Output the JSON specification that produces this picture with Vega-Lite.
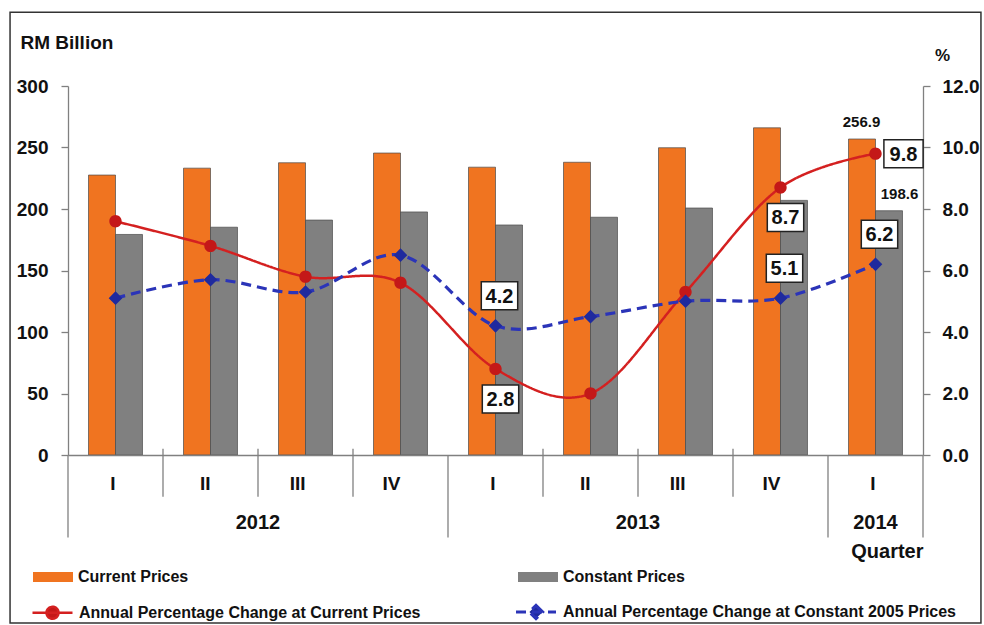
{
  "$schema": "https://vega.github.io/schema/vega-lite/v6.json",
  "width": 855,
  "height": 369,
  "autosize": "none",
  "padding": {"left": 68, "top": 86, "right": 61, "bottom": 170},
  "background": "white",
  "config": {
    "font": "Liberation Sans",
    "view": {"stroke": null},
    "axis": {"labelFont": "Liberation Sans", "titleFont": "Liberation Sans", "domainColor": "#808080", "tickColor": "#808080", "labelColor": "#111", "titleColor": "#111", "domainWidth": 1.3, "tickWidth": 1.3},
    "legend": {"labelFont": "Liberation Sans", "labelColor": "#111"},
    "text": {"font": "Liberation Sans"}
  },
  "datasets": {
    "quarters": [
      {"q": "2012 I", "year": "2012", "quarter": "I"},
      {"q": "2012 II", "year": "2012", "quarter": "II"},
      {"q": "2012 III", "year": "2012", "quarter": "III"},
      {"q": "2012 IV", "year": "2012", "quarter": "IV"},
      {"q": "2013 I", "year": "2013", "quarter": "I"},
      {"q": "2013 II", "year": "2013", "quarter": "II"},
      {"q": "2013 III", "year": "2013", "quarter": "III"},
      {"q": "2013 IV", "year": "2013", "quarter": "IV"},
      {"q": "2014 I", "year": "2014", "quarter": "I"}
    ],
    "bars": [
      {"q": "2012 I", "series": "Current Prices", "value": 227.6},
      {"q": "2012 II", "series": "Current Prices", "value": 233.2},
      {"q": "2012 III", "series": "Current Prices", "value": 237.6},
      {"q": "2012 IV", "series": "Current Prices", "value": 245.5},
      {"q": "2013 I", "series": "Current Prices", "value": 234.0},
      {"q": "2013 II", "series": "Current Prices", "value": 238.0},
      {"q": "2013 III", "series": "Current Prices", "value": 249.8},
      {"q": "2013 IV", "series": "Current Prices", "value": 266.0},
      {"q": "2014 I", "series": "Current Prices", "value": 256.9},
      {"q": "2012 I", "series": "Constant Prices", "value": 179.3},
      {"q": "2012 II", "series": "Constant Prices", "value": 185.2},
      {"q": "2012 III", "series": "Constant Prices", "value": 191.0},
      {"q": "2012 IV", "series": "Constant Prices", "value": 197.6},
      {"q": "2013 I", "series": "Constant Prices", "value": 187.0},
      {"q": "2013 II", "series": "Constant Prices", "value": 193.3},
      {"q": "2013 III", "series": "Constant Prices", "value": 200.8},
      {"q": "2013 IV", "series": "Constant Prices", "value": 207.0},
      {"q": "2014 I", "series": "Constant Prices", "value": 198.6}
    ],
    "pct": [
      {"q": "2012 I", "measure": "Annual Percentage Change at Current Prices", "pct": 7.6},
      {"q": "2012 II", "measure": "Annual Percentage Change at Current Prices", "pct": 6.8},
      {"q": "2012 III", "measure": "Annual Percentage Change at Current Prices", "pct": 5.8},
      {"q": "2012 IV", "measure": "Annual Percentage Change at Current Prices", "pct": 5.6},
      {"q": "2013 I", "measure": "Annual Percentage Change at Current Prices", "pct": 2.8},
      {"q": "2013 II", "measure": "Annual Percentage Change at Current Prices", "pct": 2.0},
      {"q": "2013 III", "measure": "Annual Percentage Change at Current Prices", "pct": 5.3},
      {"q": "2013 IV", "measure": "Annual Percentage Change at Current Prices", "pct": 8.7},
      {"q": "2014 I", "measure": "Annual Percentage Change at Current Prices", "pct": 9.8},
      {"q": "2012 I", "measure": "Annual Percentage Change at Constant 2005 Prices", "pct": 5.1},
      {"q": "2012 II", "measure": "Annual Percentage Change at Constant 2005 Prices", "pct": 5.7},
      {"q": "2012 III", "measure": "Annual Percentage Change at Constant 2005 Prices", "pct": 5.3},
      {"q": "2012 IV", "measure": "Annual Percentage Change at Constant 2005 Prices", "pct": 6.5},
      {"q": "2013 I", "measure": "Annual Percentage Change at Constant 2005 Prices", "pct": 4.2},
      {"q": "2013 II", "measure": "Annual Percentage Change at Constant 2005 Prices", "pct": 4.5},
      {"q": "2013 III", "measure": "Annual Percentage Change at Constant 2005 Prices", "pct": 5.0},
      {"q": "2013 IV", "measure": "Annual Percentage Change at Constant 2005 Prices", "pct": 5.1},
      {"q": "2014 I", "measure": "Annual Percentage Change at Constant 2005 Prices", "pct": 6.2}
    ]
  },
  "layer": [
    {
      "data": {"name": "quarters"},
      "transform": [{"filter": "datum.q === '2012 I'"}],
      "mark": {"type": "rect", "fill": "white", "fillOpacity": 0, "stroke": "#333", "strokeWidth": 1.5},
      "encoding": {
        "x": {"datum": "2012 I", "bandPosition": -0.61},
        "x2": {"datum": "2014 I", "bandPosition": 1.61},
        "y": {"datum": 360, "scale": {"domain": [0, 300], "nice": false}, "axis": null},
        "y2": {"datum": -136.5}
      }
    },
    {
      "data": {"name": "bars"},
      "mark": {"type": "bar", "stroke": "#4a4a4a", "strokeWidth": 0.7},
      "encoding": {
        "x": {
          "field": "q", "type": "nominal",
          "scale": {"domain": ["2012 I", "2012 II", "2012 III", "2012 IV", "2013 I", "2013 II", "2013 III", "2013 IV", "2014 I"], "paddingInner": 0, "paddingOuter": 0},
          "axis": {"title": "Quarter", "titleAnchor": "end", "titleY": 96, "titleBaseline": "middle", "titleFontSize": 20, "titleFontWeight": "bold", "labelExpr": "split(datum.label, ' ')[1]", "labelFontSize": 19, "labelFontWeight": "bold", "labelPadding": 28, "labelBaseline": "middle", "labelAngle": 0, "ticks": false, "tickSize": 0}
        },
        "xOffset": {"field": "series", "type": "nominal", "scale": {"domain": ["Current Prices", "Constant Prices"], "paddingInner": 0, "paddingOuter": 0.76}},
        "y": {
          "field": "value", "type": "quantitative",
          "scale": {"domain": [0, 300], "nice": false},
          "axis": {"orient": "left", "values": [0, 50, 100, 150, 200, 250, 300], "title": "RM Billion", "titleAngle": 0, "titleX": -48, "titleY": -44, "titleAlign": "left", "titleBaseline": "middle", "titleFontSize": 19, "titleFontWeight": "bold", "labelFontSize": 19, "labelFontWeight": "bold", "labelPadding": 13, "tickSize": 7, "grid": false}
        },
        "color": {
          "field": "series", "type": "nominal",
          "scale": {"domain": ["Current Prices", "Constant Prices"], "range": ["#F07420", "#808080"]},
          "legend": {"orient": "none", "legendX": -35, "legendY": 471, "direction": "horizontal", "title": null, "symbolType": "M-1,-0.25H1V0.25H-1Z", "symbolSize": 1600, "symbolStrokeWidth": 0, "labelFontSize": 16, "labelFontWeight": "bold", "labelOffset": 5, "labelLimit": 500, "columnPadding": 329, "padding": 0}
        }
      }
    },
    {
      "data": {"name": "quarters"},
      "transform": [{"filter": "datum.quarter !== 'I'"}],
      "mark": {"type": "rule", "color": "#808080", "strokeWidth": 1.3},
      "encoding": {
        "x": {"field": "q", "type": "nominal", "bandPosition": 0},
        "y": {"datum": 5, "scale": {"domain": [0, 300], "nice": false}, "axis": null},
        "y2": {"datum": -34}
      }
    },
    {
      "data": {"name": "quarters"},
      "transform": [{"filter": "datum.quarter === 'I'"}],
      "mark": {"type": "rule", "color": "#808080", "strokeWidth": 1.3},
      "encoding": {
        "x": {"field": "q", "type": "nominal", "bandPosition": 0},
        "y": {"datum": 0, "scale": {"domain": [0, 300], "nice": false}, "axis": null},
        "y2": {"datum": -67}
      }
    },
    {
      "data": {"name": "quarters"},
      "transform": [{"filter": "datum.q === '2014 I'"}],
      "mark": {"type": "rule", "color": "#808080", "strokeWidth": 1.3},
      "encoding": {
        "x": {"field": "q", "type": "nominal", "bandPosition": 1},
        "y": {"datum": 0, "scale": {"domain": [0, 300], "nice": false}, "axis": null},
        "y2": {"datum": -67}
      }
    },
    {
      "data": {"name": "quarters"},
      "transform": [{"filter": "datum.quarter === 'III'"}],
      "mark": {"type": "text", "fontSize": 20, "fontWeight": "bold", "baseline": "middle", "color": "#111"},
      "encoding": {
        "x": {"field": "q", "type": "nominal", "bandPosition": 0},
        "y": {"datum": -55, "scale": {"domain": [0, 300], "nice": false}, "axis": null},
        "text": {"field": "year"}
      }
    },
    {
      "data": {"name": "quarters"},
      "transform": [{"filter": "datum.year === '2014'"}],
      "mark": {"type": "text", "fontSize": 20, "fontWeight": "bold", "baseline": "middle", "color": "#111"},
      "encoding": {
        "x": {"field": "q", "type": "nominal", "bandPosition": 0.5},
        "y": {"datum": -55, "scale": {"domain": [0, 300], "nice": false}, "axis": null},
        "text": {"field": "year"}
      }
    },
    {
      "data": {"name": "bars"},
      "transform": [{"filter": "datum.q === '2014 I' && datum.series === 'Current Prices'"}],
      "mark": {"type": "text", "fontSize": 15, "fontWeight": "bold", "baseline": "middle", "dx": -14, "dy": -17, "color": "#111"},
      "encoding": {
        "x": {"field": "q", "type": "nominal"},
        "y": {"field": "value", "type": "quantitative", "scale": {"domain": [0, 300], "nice": false}, "axis": null},
        "text": {"field": "value", "format": ".1f"}
      }
    },
    {
      "data": {"name": "bars"},
      "transform": [{"filter": "datum.q === '2014 I' && datum.series === 'Constant Prices'"}],
      "mark": {"type": "text", "fontSize": 15, "fontWeight": "bold", "baseline": "middle", "dx": 24, "dy": -17, "color": "#111"},
      "encoding": {
        "x": {"field": "q", "type": "nominal"},
        "y": {"field": "value", "type": "quantitative", "scale": {"domain": [0, 300], "nice": false}, "axis": null},
        "text": {"field": "value", "format": ".1f"}
      }
    },
    {
      "data": {"name": "pct"},
      "mark": {"type": "line", "interpolate": "cardinal", "tension": 0},
      "encoding": {
        "x": {"field": "q", "type": "nominal"},
        "y": {
          "field": "pct", "type": "quantitative",
          "scale": {"domain": [0, 12], "nice": false},
          "axis": {"orient": "right", "values": [0, 2, 4, 6, 8, 10, 12], "format": ".1f", "title": "%", "titleAngle": 0, "titleX": 19, "titleY": -31, "titleAlign": "center", "titleBaseline": "middle", "titleFontSize": 17, "titleFontWeight": "bold", "labelFontSize": 19, "labelFontWeight": "bold", "labelPadding": 12, "tickSize": 7, "grid": false}
        },
        "stroke": {
          "field": "measure", "type": "nominal",
          "scale": {"domain": ["Annual Percentage Change at Current Prices", "Annual Percentage Change at Constant 2005 Prices"], "range": ["#D42020", "#2B34B8"]},
          "legend": {
            "orient": "none", "legendX": -37, "legendY": 504, "direction": "horizontal", "title": null,
            "symbolSize": 1600, "symbolStrokeWidth": 2.5, "symbolOpacity": 1, "labelFontSize": 16, "labelFontWeight": "bold", "labelOffset": 5, "labelLimit": 500, "columnPadding": 88, "padding": 0
          }
        },
        "strokeDash": {
          "field": "measure", "type": "nominal",
          "scale": {"domain": ["Annual Percentage Change at Current Prices", "Annual Percentage Change at Constant 2005 Prices"], "range": [[1, 0], [10, 6]]}
        },
        "strokeWidth": {
          "field": "measure", "type": "nominal",
          "scale": {"domain": ["Annual Percentage Change at Current Prices", "Annual Percentage Change at Constant 2005 Prices"], "range": [2.5, 3.2]},
          "legend": null
        }
      }
    },
    {
      "data": {"name": "pct"},
      "mark": {"type": "point", "filled": true, "size": 1700, "opacity": 1, "strokeWidth": 0},
      "encoding": {
        "x": {"field": "q", "type": "nominal"},
        "y": {"field": "pct", "type": "quantitative", "scale": {"domain": [0, 12], "nice": false}, "axis": null},
        "shape": {"field": "measure", "type": "nominal", "scale": {"domain": ["Annual Percentage Change at Current Prices", "Annual Percentage Change at Constant 2005 Prices"], "range": ["M-1,0H1M0.3,0A0.3,0.3 0 1 1 -0.3,0A0.3,0.3 0 1 1 0.3,0Z", "M-1,0H1M0,-0.33L0.33,0L0,0.33L-0.33,0Z"]}, "legend": null},
        "fill": {"field": "measure", "type": "nominal", "scale": {"domain": ["Annual Percentage Change at Current Prices", "Annual Percentage Change at Constant 2005 Prices"], "range": ["#C41818", "#1F2A9E"]}, "legend": null}
      }
    },
    {
      "data": {"name": "pct"},
      "transform": [{"filter": "datum.measure === 'Annual Percentage Change at Constant 2005 Prices' && (datum.q === '2013 I' || datum.q === '2013 IV' || datum.q === '2014 I')"}],
      "mark": {"type": "point", "shape": "M-1.3,-1H1.3V1H-1.3Z", "size": 784, "filled": true, "fill": "white", "stroke": "#222", "strokeWidth": 1.5, "opacity": 1},
      "encoding": {
        "x": {"field": "q", "type": "nominal"},
        "y": {"field": "pct", "type": "quantitative", "scale": {"domain": [0, 12], "nice": false}, "axis": null},
        "xOffset": {"value": 51.5},
        "yOffset": {"value": -30}
      }
    },
    {
      "data": {"name": "pct"},
      "transform": [{"filter": "datum.measure === 'Annual Percentage Change at Constant 2005 Prices' && (datum.q === '2013 I' || datum.q === '2013 IV' || datum.q === '2014 I')"}],
      "mark": {"type": "text", "fontSize": 20, "fontWeight": "bold", "baseline": "middle", "dx": 4, "dy": -29, "color": "#111"},
      "encoding": {
        "x": {"field": "q", "type": "nominal"},
        "y": {"field": "pct", "type": "quantitative", "scale": {"domain": [0, 12], "nice": false}, "axis": null},
        "text": {"field": "pct", "format": ".1f"}
      }
    },
    {
      "data": {"name": "pct"},
      "transform": [{"filter": "datum.measure === 'Annual Percentage Change at Current Prices' && (datum.q === '2013 I' || datum.q === '2013 IV')"}],
      "mark": {"type": "point", "shape": "M-1.3,-1H1.3V1H-1.3Z", "size": 784, "filled": true, "fill": "white", "stroke": "#222", "strokeWidth": 1.5, "opacity": 1},
      "encoding": {
        "x": {"field": "q", "type": "nominal"},
        "y": {"field": "pct", "type": "quantitative", "scale": {"domain": [0, 12], "nice": false}, "axis": null},
        "xOffset": {"value": 52.5},
        "yOffset": {"value": 30}
      }
    },
    {
      "data": {"name": "pct"},
      "transform": [{"filter": "datum.measure === 'Annual Percentage Change at Current Prices' && (datum.q === '2013 I' || datum.q === '2013 IV')"}],
      "mark": {"type": "text", "fontSize": 20, "fontWeight": "bold", "baseline": "middle", "dx": 5, "dy": 31, "color": "#111"},
      "encoding": {
        "x": {"field": "q", "type": "nominal"},
        "y": {"field": "pct", "type": "quantitative", "scale": {"domain": [0, 12], "nice": false}, "axis": null},
        "text": {"field": "pct", "format": ".1f"}
      }
    },
    {
      "data": {"name": "pct"},
      "transform": [{"filter": "datum.measure === 'Annual Percentage Change at Current Prices' && datum.q === '2014 I'"}],
      "mark": {"type": "point", "shape": "M-1.4,-1H1.4V1H-1.4Z", "size": 784, "filled": true, "fill": "white", "stroke": "#222", "strokeWidth": 1.5, "opacity": 1},
      "encoding": {
        "x": {"field": "q", "type": "nominal"},
        "y": {"field": "pct", "type": "quantitative", "scale": {"domain": [0, 12], "nice": false}, "axis": null},
        "xOffset": {"value": 75.5},
        "yOffset": {"value": 0}
      }
    },
    {
      "data": {"name": "pct"},
      "transform": [{"filter": "datum.measure === 'Annual Percentage Change at Current Prices' && datum.q === '2014 I'"}],
      "mark": {"type": "text", "fontSize": 20, "fontWeight": "bold", "baseline": "middle", "dx": 28, "dy": 1, "color": "#111"},
      "encoding": {
        "x": {"field": "q", "type": "nominal"},
        "y": {"field": "pct", "type": "quantitative", "scale": {"domain": [0, 12], "nice": false}, "axis": null},
        "text": {"field": "pct", "format": ".1f"}
      }
    }
  ],
  "resolve": {"scale": {"y": "independent"}}
}
